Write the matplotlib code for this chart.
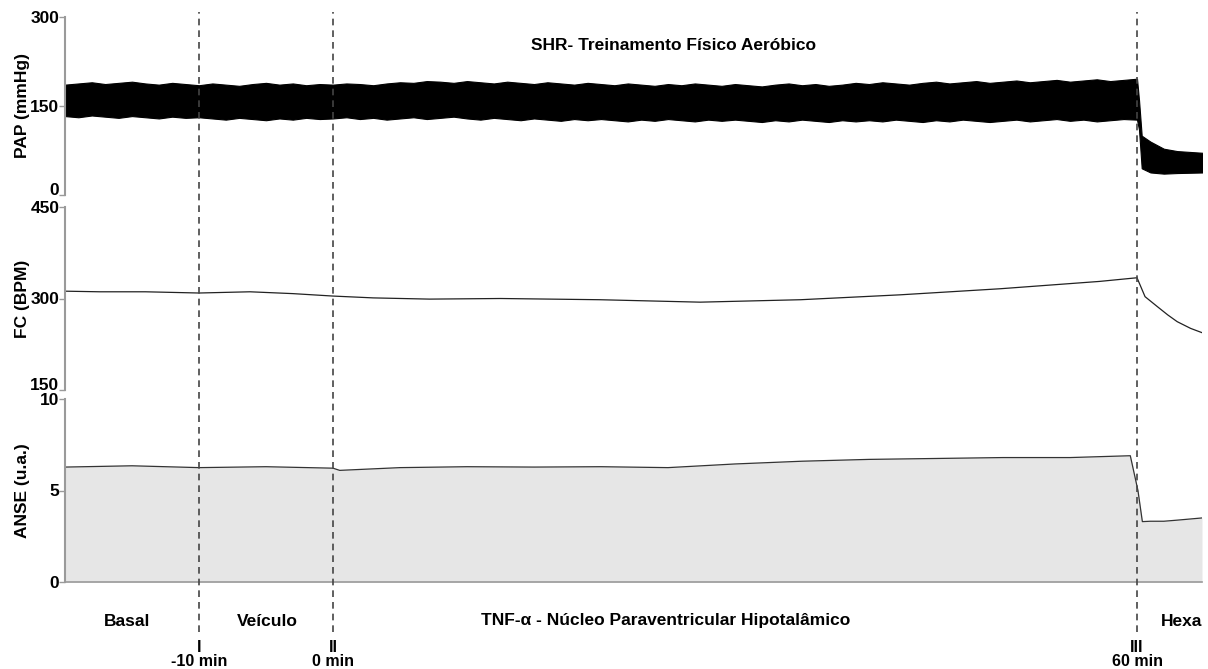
import numpy as np
import matplotlib
matplotlib.use("Agg")
import matplotlib.pyplot as plt
import matplotlib.transforms as mtransforms

plt.rcParams['font.family'] = ['Liberation Sans', 'DejaVu Sans']
plt.rcParams['font.weight'] = 'bold'

# ---- data (time in minutes, 0 = microinjection II) ----
pap_t = list(range(-20, 61)) + [60.15, 60.35, 61, 62, 63, 65]
pap_upper = [186, 188, 190, 187, 189, 191, 188, 186, 189, 187,
             185, 188, 186, 184, 187, 189, 186, 188, 185, 187,
             186, 188, 187, 185, 188, 190, 189, 192, 191, 189,
             192, 190, 188, 191, 189, 187, 190, 188, 186, 189,
             187, 185, 188, 186, 184, 187, 185, 188, 186, 184,
             187, 185, 183, 186, 188, 185, 187, 184, 186, 189,
             187, 190, 188, 186, 189, 191, 188, 190, 192, 189,
             191, 193, 190, 192, 194, 191, 193, 195, 192, 194,
             196, 160, 100, 90, 78, 74, 71]
pap_lower = [133, 131, 134, 132, 130, 133, 131, 129, 132, 130,
             131, 129, 127, 130, 128, 126, 129, 127, 130, 128,
             129, 131, 128, 130, 127, 129, 131, 128, 130, 132,
             129, 127, 130, 128, 126, 129, 127, 125, 128, 126,
             128, 126, 124, 127, 125, 128, 126, 124, 127, 125,
             127, 125, 123, 126, 124, 127, 125, 123, 126, 124,
             126, 124, 127, 125, 123, 126, 124, 127, 125, 123,
             125, 127, 124, 126, 128, 125, 127, 124, 126, 128,
             127, 110, 45, 38, 36, 37, 38]

fc_t = [-20, -17.4, -14, -10, -6.2, -3, 0, 3, 7.2, 12.5, 19.9, 27.4, 34.9,
        42.3, 49.8, 57.2, 60, 60.6, 61.5, 62.3, 63.0, 64.0, 64.85]
fc_v = [312, 311, 311, 309, 311, 308, 304, 301, 299, 300, 298, 294, 298,
        306, 316, 328, 334, 303, 287, 273, 262, 251, 244]

anse_t = [-20, -15, -10, -5, 0, 0.5, 5, 10, 15, 20, 25, 30, 35, 40, 45, 50,
          55, 59.5, 60.07, 60.4, 61, 62, 63, 64.85]
anse_v = [6.28, 6.35, 6.25, 6.30, 6.22, 6.10, 6.25, 6.30, 6.28, 6.30, 6.25,
          6.45, 6.60, 6.70, 6.75, 6.80, 6.80, 6.90, 5.0, 3.30, 3.32, 3.32,
          3.38, 3.50]

events_t = [-10, 0, 60]
events_num = ['I', 'II', 'III']
events_lbl = ['-10 min', '0 min', '60 min']
phase_t = [-15.4, -4.9, 24.8, 63.3]
phase_lbl = ['Basal', 'Veículo', 'TNF-α - Núcleo Paraventricular Hipotalâmico', 'Hexa']

W, H = 1208, 669
fig = plt.figure(figsize=(W / 100, H / 100), dpi=100)
left, right = 65 / W, 1202 / W
xlim = (-20, 64.85)


def fy(px):
    return 1 - px / H


def make_ax(top, bottom):
    ax = fig.add_axes([left, fy(bottom), right - left, fy(top) - fy(bottom)])
    ax.set_xlim(*xlim)
    ax.set_xticks([])
    for s in ['top', 'right', 'bottom']:
        ax.spines[s].set_visible(False)
    ax.spines['left'].set_color('#9a9a9a')
    ax.spines['left'].set_linewidth(1.5)
    ax.tick_params(axis='y', length=4, width=1, color='#9a9a9a', pad=0,
                   labelsize=12.5)
    return ax


lab_x = (30 - 65) / (1202 - 65)

ax1 = make_ax(17, 195)
ax1.fill_between(pap_t, pap_lower, pap_upper, color='black', lw=0.8,
                 edgecolor='black')
ax1.set_ylim(0, 300)
ax1.set_yticks([0, 150, 300])
ax1.set_ylabel('PAP (mmHg)', fontsize=12.5, fontweight='bold')
ax1.text(0.535, 0.84, 'SHR- Treinamento Físico Aeróbico', transform=ax1.transAxes,
         ha='center', va='center', fontsize=12.5, fontweight='bold')

ax2 = make_ax(207, 390)
ax2.plot(fc_t, fc_v, color='#222222', lw=0.9)
ax2.set_ylim(150, 450)
ax2.set_yticks([150, 300, 450])
ax2.set_ylabel('FC (BPM)', fontsize=12.5, fontweight='bold')

ax3 = make_ax(399, 582)
ax3.fill_between(anse_t, 0, anse_v, color='#e6e6e6', lw=0)
ax3.plot(anse_t, anse_v, color='#333333', lw=0.9)
ax3.set_ylim(0, 10)
ax3.set_yticks([0, 5, 10])
ax3.spines['bottom'].set_visible(True)
ax3.spines['bottom'].set_color('#9a9a9a')
ax3.spines['bottom'].set_linewidth(1.2)
ax3.set_ylabel('ANSE (u.a.)', fontsize=12.5, fontweight='bold')

for ax in (ax1, ax2, ax3):
    ax.yaxis.set_label_coords(lab_x, 0.5)
    for t in ax.get_yticklabels():
        t.set_fontweight('bold')

# keep the lowest tick label of the upper panels clear of the next panel
for ax in (ax1, ax2):
    ax.get_yticklabels()[0].set_va('baseline')

# overlay for the dashed event lines
ov = fig.add_axes([left, fy(632), right - left, fy(12) - fy(632)])
ov.set_xlim(*xlim)
ov.set_ylim(0, 1)
ov.axis('off')
ov.patch.set_alpha(0)
for t in events_t:
    ov.axvline(t, color='#444444', lw=1.2, ls=(0, (4, 3)))

trans = mtransforms.blended_transform_factory(ov.transData, fig.transFigure)
for t, lbl in zip(phase_t, phase_lbl):
    ov.text(t, fy(621), lbl, transform=trans, ha='center', va='center',
            fontsize=12.5, fontweight='bold')
for t, n, lbl in zip(events_t, events_num, events_lbl):
    ov.text(t, fy(647), n, transform=trans, ha='center', va='center',
            fontsize=11.5, fontweight='bold')
    ov.text(t, fy(661), lbl, transform=trans, ha='center', va='center',
            fontsize=11.5, fontweight='bold')

fig.savefig('out.png', dpi=100)
